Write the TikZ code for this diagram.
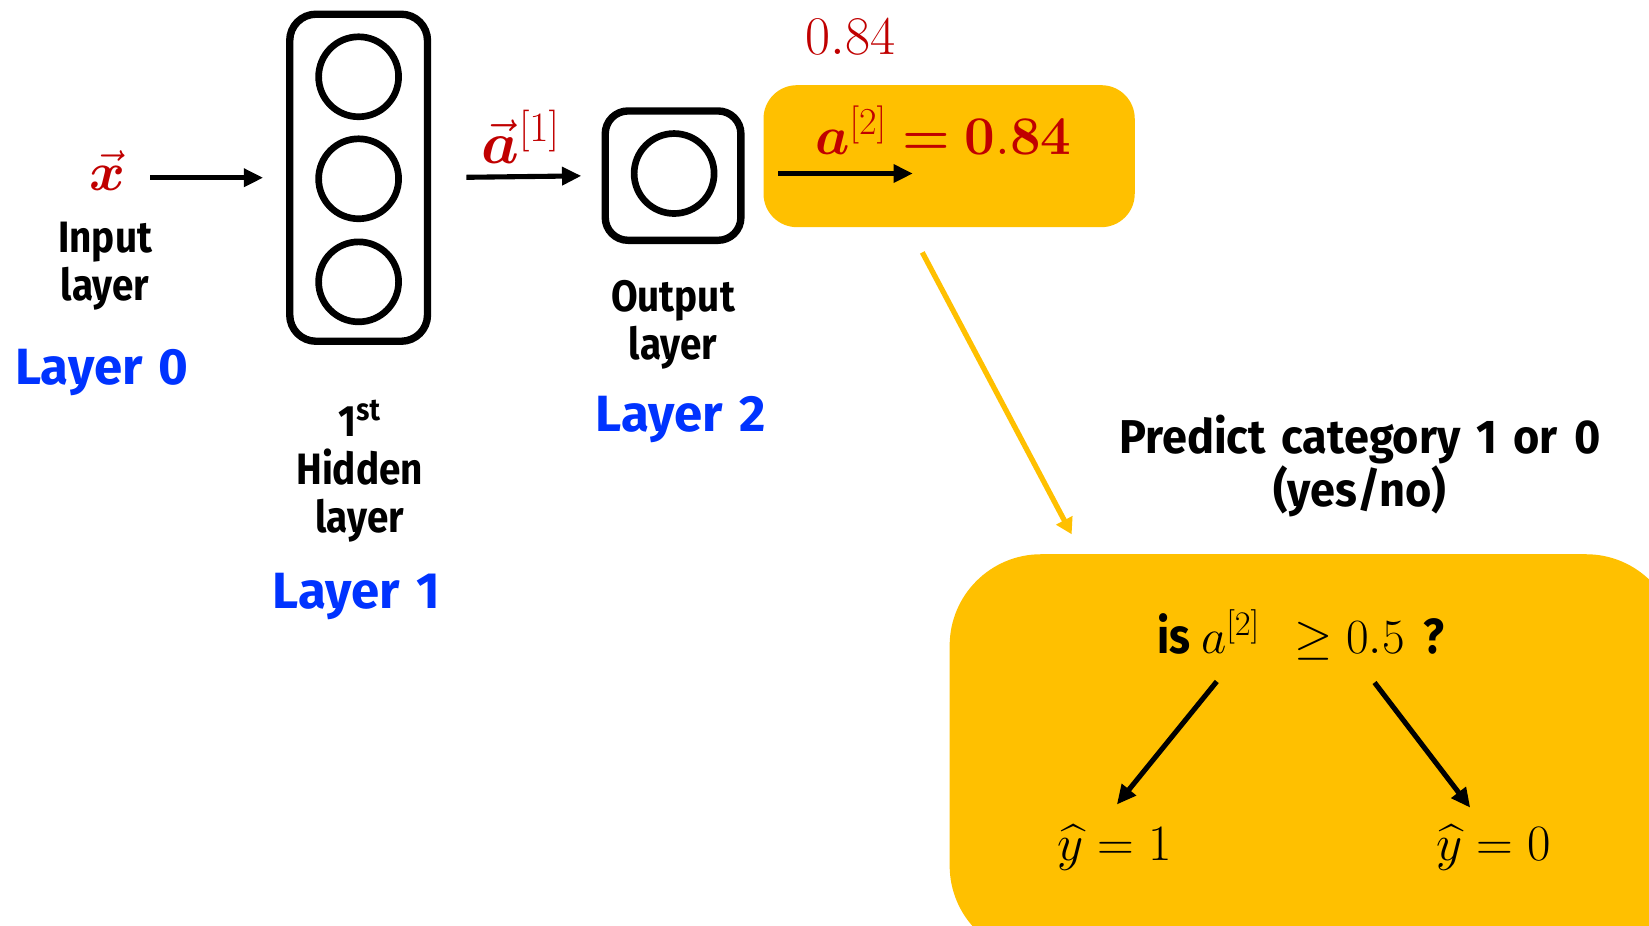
\RequirePackage{fix-cm}
\documentclass[tikz,border=0pt]{standalone}
\usepackage{amsmath,bm}
\usepackage[no-math]{fontspec}
\usetikzlibrary{arrows.meta}
\newfontfamily\lblfont{Fira Sans}[FakeStretch=0.88]
\newfontfamily\widefont{Fira Sans}[FakeStretch=1.0, WordSpace=1.35]
\newfontfamily\titlefont{Fira Sans}[FakeStretch=0.95, WordSpace=1.5]
\definecolor{hired}{HTML}{C00000}
\definecolor{layerblue}{HTML}{0033FF}
\definecolor{amber}{HTML}{FFC000}
\tikzset{
  layerbox/.style={draw, line width=4.2pt, minimum width={#1}},
  neuron/.style={circle, draw, line width=3.8pt, minimum size=45.5pt, inner sep=0pt},
  flow/.style={-{Triangle[length=11pt,width=10pt]}, line width=2.9pt},
  lbl/.style={font=\lblfont\bfseries\fontsize{25}{27.5}\selectfont, align=center, inner sep=0pt},
  layername/.style={font=\widefont\bfseries\fontsize{29}{31}\selectfont, text=layerblue, inner sep=0pt},
  mathred/.style={text=hired, inner sep=0pt},
}
\begin{document}
\begin{tikzpicture}[x=0.5984pt, y=-0.5984pt]
\clip (0,0) rectangle (1568,880);

% input
\node[mathred, font=\fontsize{31}{31}\selectfont] (xin) at (102,162) {$\vec{\bm{x}}$};
\node[lbl] (inlbl) at (100,253) {Input\\layer};
\node[layername] (l0) at (97,354) {Layer 0};

% hidden layer
\node[layerbox={131*0.5984pt}, minimum height={311*0.5984pt}, rounded corners=15pt] (hid) at (341,169) {};
\node[neuron] (h1) at (341,73) {};
\node[neuron] (h2) at (341,170) {};
\node[neuron] (h3) at (341,268) {};
\node[lbl] (hidlbl) at (342,448) {1\textsuperscript{st}\\Hidden\\layer};
\node[layername] (l1) at (339,567) {Layer 1};

% output layer
\node[layerbox={129*0.5984pt}, minimum height={123*0.5984pt}, rounded corners=13pt] (outbox) at (640,167) {};
\node[neuron] (o1) at (641,165) {};
\node[lbl] (outlbl) at (640,309) {Output\\layer};
\node[layername] (l2) at (647,399) {Layer 2};

% activations between layers
\draw[flow, shorten <=14pt, shorten >=13pt] (xin.east |- hid.west) -- (hid.west);
\node[mathred, font=\fontsize{34}{34}\selectfont] (a1) at (495,130) {$\vec{\bm{a}}^{[1]}$};
\draw[flow, shorten <=20pt, shorten >=11.5pt] (hid.east) -- (outbox.west);

% output value
\node[mathred, font=\fontsize{31}{31}\selectfont] (val) at (809,35) {$0.84$};
\node[fill=amber, rounded corners=19pt, minimum width={353*0.5984pt}, minimum height={135*0.5984pt}, inner sep=0pt] (abox) at (902.5,148.5) {};
\node[mathred, font=\fontsize{31}{31}\selectfont] (a2) at (897,124) {$\bm{a}^{[2]}\bm{=}\mathbf{0.84}$};
\coordinate (a2tail) at (740,165);
\coordinate (a2tip) at (868,165);
\draw[flow] (a2tail) -- (a2tip);

% thresholding
\coordinate (linkstart) at (877,240);
\coordinate (linkend) at (1019,508);
\draw[amber, line width=3pt, -{Triangle[length=9pt,width=10pt]}] (linkstart) -- (linkend);
\node[align=center, inner sep=0pt, font=\titlefont\bfseries\fontsize{27}{30.5}\selectfont] (pred) at (1293,443) {Predict category 1 or 0\\(yes/no)};

\fill[amber, rounded corners=52pt] (903,527) rectangle (1595,910);
\node[inner sep=0pt] (q) at (1237,604) {\lblfont\bfseries\fontsize{28}{28}\selectfont is $a^{[2]}\ \ \geq 0.5$ \,?};
\node[inner sep=0pt, font=\fontsize{29}{29}\selectfont] (y1) at (1060,806) {$\widehat{y}=1$};
\node[inner sep=0pt, font=\fontsize{29}{29}\selectfont] (y0) at (1420,806) {$\widehat{y}=0$};
\coordinate (qL) at (1157,648);
\coordinate (qR) at (1307,649);
\coordinate (yL) at (1062,765);
\coordinate (yR) at (1398,768);
\draw[flow] (qL) -- (yL);
\draw[flow] (qR) -- (yR);
\end{tikzpicture}
\end{document}
